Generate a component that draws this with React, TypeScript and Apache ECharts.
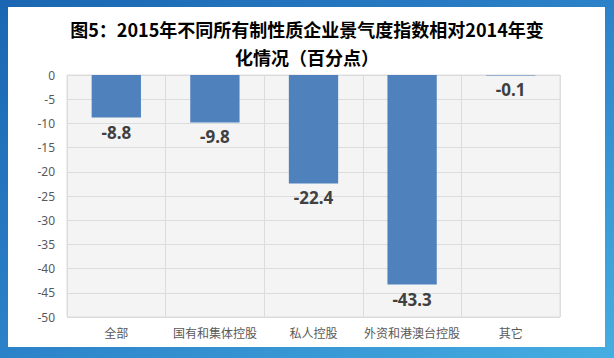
import React, { useEffect, useRef } from "react";
import * as echarts from "echarts";

const titleLines = ["图5：2015年不同所有制性质企业景气度指数相对2014年变", "化情况（百分点）"];
const categories = ["全部", "国有和集体控股", "私人控股", "外资和港澳台控股", "其它"];
const values = [-8.8, -9.8, -22.4, -43.3, -0.1];

export default function App() {
  const ref = useRef<HTMLDivElement>(null);
  useEffect(() => {
    document.body.style.margin = "0";
    const chart = echarts.init(ref.current!, null, { renderer: "svg" });
    chart.setOption({
      animation: false,
      backgroundColor: {
        type: "linear",
        x: 0, y: 0, x2: 1, y2: 1,
        colorStops: [
          { offset: 0, color: "#1a66b2" },
          { offset: 0.5, color: "#2c82c9" },
          { offset: 1, color: "#45aee2" },
        ],
      },
      graphic: [
        {
          type: "rect",
          shape: { x: 8, y: 7, width: 597, height: 340 },
          style: { fill: "#ffffff" },
          z: -10,
        },
      ],
      title: {
        text: titleLines.join("\n"),
        left: "center",
        top: 10,
        textStyle: {
          fontFamily: "Noto Sans CJK SC",
          fontWeight: "bold",
          fontSize: 18,
          lineHeight: 28,
          color: "#000000",
        },
      },
      grid: {
        left: 67,
        right: 54,
        top: 75,
        bottom: 41,
        show: true,
        backgroundColor: "#f4f4f4",
        borderColor: "#dcdcdc",
        borderWidth: 1,
      },
      xAxis: {
        type: "category",
        data: categories,
        position: "bottom",
        axisLine: { show: false },
        axisTick: { show: false },
        splitLine: { show: true, lineStyle: { color: "#dcdcdc" } },
        axisLabel: {
          color: "#595959",
          fontSize: 12,
          fontFamily: "Noto Sans CJK SC",
          margin: 9,
          interval: 0,
        },
      },
      yAxis: {
        type: "value",
        min: -50,
        max: 0,
        interval: 5,
        axisLine: { show: false },
        axisTick: { show: false },
        splitLine: { show: true, lineStyle: { color: "#dcdcdc" } },
        axisLabel: {
          color: "#595959",
          fontSize: 12,
          fontFamily: "Noto Sans",
          margin: 12,
        },
      },
      series: [
        {
          type: "bar",
          data: values,
          barWidth: "50%",
          itemStyle: { color: "#4f81bd" },
          label: {
            show: true,
            position: "bottom",
            distance: 6,
            color: "#404040",
            fontSize: 17,
            fontWeight: "bold",
            fontFamily: "Noto Sans",
          },
        },
      ],
    });
    return () => chart.dispose();
  }, []);
  return <div ref={ref} style={{ width: 614, height: 358 }} />;
}
